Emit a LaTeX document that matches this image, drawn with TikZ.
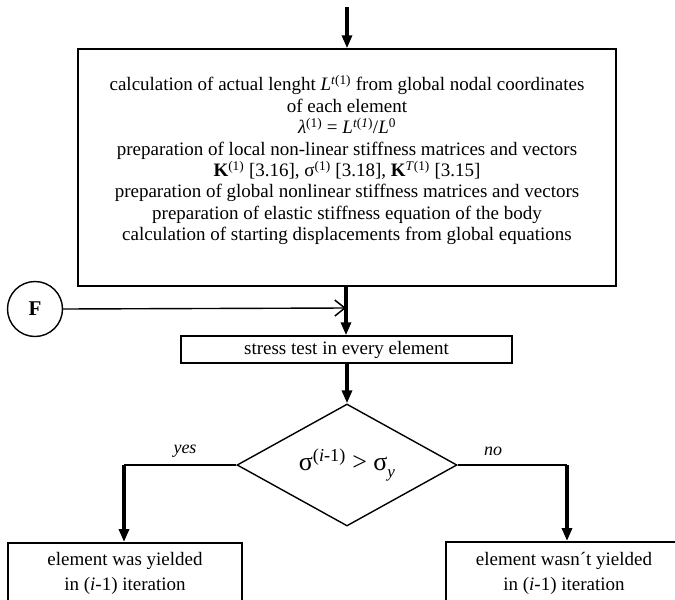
\documentclass[tikz,border=0pt]{standalone}
\usepackage{fontspec}
\setmainfont{Liberation Serif}
\usetikzlibrary{arrows.meta,shapes.geometric}
\begin{document}
\begin{tikzpicture}[x=1pt,y=-1pt,
  box/.style={draw,line width=1.5pt,rectangle,inner sep=0pt},
  txt/.style={align=center,inner sep=0pt,font=\fontsize{19}{21.4}\selectfont},
  thickarrow/.style={line width=3.2pt,-{Triangle[length=13pt,width=10pt]}},
  thinline/.style={line width=1.4pt},
  lbl/.style={font=\fontsize{18}{20}\selectfont\itshape}]
\useasboundingbox (0,0) rectangle (675,600);
\clip (0,0) rectangle (675,600);
\node[box,minimum width=538pt,minimum height=237pt] (calc) at (347,167.5) {};
\node[txt] (calctxt) at (347,160) {%
calculation of actual lenght \textit{L}\textsuperscript{\textit{t}(1)} from global nodal coordinates\\
of each element\\
\textit{λ}\textsuperscript{(1)} = \textit{L}\textsuperscript{\textit{t}(\textit{1})}/\textit{L}\textsuperscript{0}\\
preparation of local non-linear stiffness matrices and vectors\\
\textbf{K}\textsuperscript{(1)} [3.16], σ\textsuperscript{(1)} [3.18], \textbf{K}\textsuperscript{\textit{T}(1)} [3.15]\\
preparation of global nonlinear stiffness matrices and vectors\\
preparation of elastic stiffness equation of the body\\
calculation of starting displacements from global equations};
\node[box,txt,minimum width=331pt,minimum height=27pt] (stress) at (346.5,349.5) {stress test in every element};
\node[draw,shape=diamond,aspect=1.8,thinline,inner sep=0pt,minimum width=220pt,minimum height=122pt,font=\fontsize{26}{30}\selectfont] (test) at (347,465)
  {σ\textsuperscript{(\textit{i}-1)} > σ\raisebox{-0.3em}{\fontsize{17}{20}\selectfont\textit{y}}};
\node[box,minimum width=234pt,minimum height=90pt,anchor=north] (yesbox) at (125,542) {};
\node[txt,font=\fontsize{19}{25}\selectfont] (yestxt) at (125,573) {element was yielded\\ in (\textit{i}-1) iteration};
\node[box,minimum width=250pt,minimum height=90pt,anchor=north west] (nobox) at (445,541) {};
\node[txt,font=\fontsize{19}{25}\selectfont] (notxt) at (564,573) {element wasn´t yielded\\ in (\textit{i}-1) iteration};
\node[draw,circle,thinline,minimum size=55pt,inner sep=0pt,font=\fontsize{21}{24}\selectfont\bfseries] (F) at (35,309) {F};
\coordinate (start) at (347,7);
\coordinate (join) at (346,308);
\coordinate (ycorner) at (124,465);
\coordinate (ncorner) at (567,465);
\coordinate (ybox) at (124,542);
\coordinate (nbox) at (567,541);
\draw[thickarrow] (start) -- (calc.north);
\draw[thickarrow] (calc.south -| join) -- (stress.north -| join);
\draw[thinline,-{Straight Barb[length=10pt,width=16pt,line width=1.5pt]}] (F.east) -- (join);
\draw[thickarrow] (stress.south -| test.north) -- (test.north);
\draw[thinline] (test.west) -- (ycorner);
\draw[thickarrow] (ycorner) -- (ybox);
\draw[thinline] (test.east) -- (ncorner);
\draw[thickarrow] (ncorner) -- (nbox);
\node[lbl] (yes) at (185,451) {yes};
\node[lbl] (no) at (493,451) {no};
\end{tikzpicture}
\end{document}
